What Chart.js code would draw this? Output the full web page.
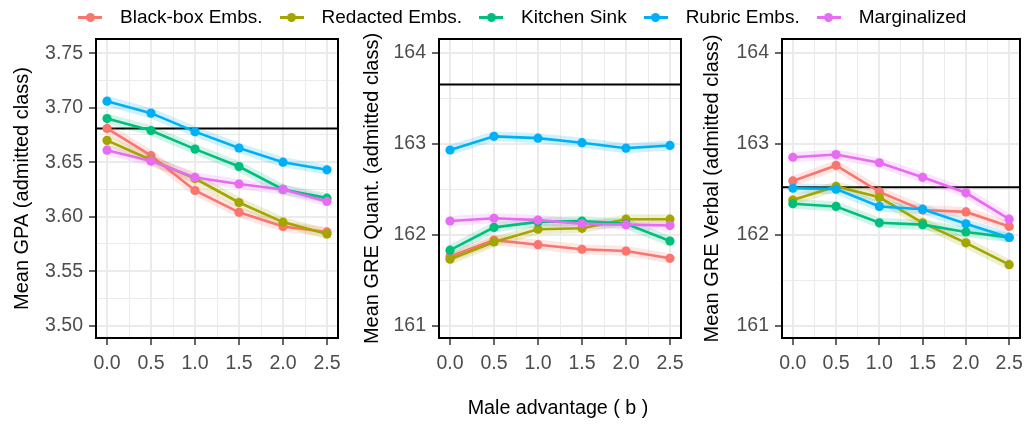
<!DOCTYPE html>
<html>
<head>
<meta charset="utf-8">
<script src="https://cdn.jsdelivr.net/npm/chart.js@4.4.1/dist/chart.umd.min.js"></script>
<style>
  body { margin: 0; background: #fff; font-family: "Liberation Sans", Arial, sans-serif; }
  #wrap { position: relative; width: 1030px; height: 425px; overflow: hidden; }
  #wrap canvas { position: absolute; left: 0; top: 0; }
  #legend { position: absolute; left: 78px; top: 5px; height: 24px; display: flex; align-items: center; font-size: 19px; color: #000; }
  .key { position: relative; width: 24px; height: 24px; margin-right: 18px; flex: none; }
  .key i { position: absolute; left: 0; top: 11px; width: 24px; height: 2.5px; }
  .key b { position: absolute; left: 7.5px; top: 7.5px; width: 9px; height: 9px; border-radius: 50%; }
  .lab { margin-right: 17px; white-space: nowrap; }
  #xtitle { position: absolute; left: 408px; width: 300px; top: 396px; text-align: center; font-size: 19.7px; line-height: 23px; color: #000; }
</style>
</head>
<body>
<div id="wrap">
  <canvas id="gpa" width="1030" height="425"></canvas>
  <canvas id="quant" width="1030" height="425"></canvas>
  <canvas id="verbal" width="1030" height="425"></canvas>
  <div id="legend"></div>
  <div id="xtitle">Male advantage ( b )</div>
</div>
<script>
// categories / series
const xValues = [0, 0.5, 1, 1.5, 2, 2.5];
const seriesNames = ['Black-box Embs.', 'Redacted Embs.', 'Kitchen Sink', 'Rubric Embs.', 'Marginalized'];
const seriesColors = ['#F8766D', '#A3A500', '#00BF7D', '#00B0F6', '#E76BF3'];

// Mean GPA
const gpaBlackbox = [3.681, 3.656, 3.624, 3.604, 3.591, 3.586];
const gpaRedacted = [3.670, 3.652, 3.635, 3.613, 3.595, 3.584];
const gpaKitchen  = [3.690, 3.679, 3.662, 3.646, 3.625, 3.617];
const gpaRubric   = [3.706, 3.695, 3.678, 3.663, 3.650, 3.643];
const gpaMarginal = [3.661, 3.651, 3.636, 3.630, 3.625, 3.614];
const gpaBaseline = 3.681;

// Mean GRE Quant.
const quantBlackbox = [161.76, 161.94, 161.89, 161.84, 161.82, 161.74];
const quantRedacted = [161.73, 161.92, 162.06, 162.07, 162.17, 162.17];
const quantKitchen  = [161.83, 162.08, 162.14, 162.15, 162.12, 161.93];
const quantRubric   = [162.93, 163.08, 163.06, 163.01, 162.95, 162.98];
const quantMarginal = [162.15, 162.18, 162.16, 162.12, 162.11, 162.10];
const quantBaseline = 163.65;

// Mean GRE Verbal
const verbalBlackbox = [162.59, 162.76, 162.47, 162.27, 162.25, 162.09];
const verbalRedacted = [162.38, 162.53, 162.41, 162.13, 161.91, 161.67];
const verbalKitchen  = [162.34, 162.31, 162.13, 162.11, 162.03, 161.97];
const verbalRubric   = [162.51, 162.50, 162.31, 162.28, 162.12, 161.97];
const verbalMarginal = [162.85, 162.88, 162.79, 162.63, 162.46, 162.17];
const verbalBaseline = 162.52;

// tick labels
const xTicks = [0, 0.5, 1, 1.5, 2, 2.5];
const gpaTicks = [3.50, 3.55, 3.60, 3.65, 3.70, 3.75];
const greTicks = [161, 162, 163, 164];

const FONT = '"Liberation Sans", Arial, sans-serif';
const TOP = 39, BOTTOM = 338;

// legend
const legend = document.getElementById('legend');
seriesNames.forEach((name, i) => {
  legend.insertAdjacentHTML('beforeend',
    '<span class="key"><i style="background:' + seriesColors[i] + '"></i><b style="background:' + seriesColors[i] + '"></b></span>' +
    '<span class="lab">' + name + '</span>');
});

function hexA(hex, a) {
  const n = parseInt(hex.slice(1), 16);
  return 'rgba(' + (n >> 16) + ',' + ((n >> 8) & 255) + ',' + (n & 255) + ',' + a + ')';
}

// major ticks plus minor ticks half way between
function withMinor(major, min, max) {
  const step = major[1] - major[0];
  const out = [];
  major.forEach(v => {
    out.push({ value: v, minor: false });
    out.push({ value: v + step / 2, minor: true });
  });
  out.unshift({ value: major[0] - step / 2, minor: true });
  return out.filter(t => t.value >= min && t.value <= max);
}

// panel frame + reference line
const framePlugin = {
  id: 'frame',
  beforeDatasetsDraw(chart, args, opts) {
    const { ctx, chartArea: a } = chart;
    const yy = chart.scales.y.getPixelForValue(opts.value);
    ctx.save();
    ctx.strokeStyle = '#000';
    ctx.lineWidth = 2;
    ctx.beginPath();
    ctx.moveTo(a.left, yy);
    ctx.lineTo(a.right, yy);
    ctx.stroke();
    ctx.restore();
  },
  afterDatasetsDraw(chart) {
    const { ctx, chartArea: a } = chart;
    ctx.save();
    ctx.strokeStyle = '#000';
    ctx.lineWidth = 2;
    ctx.strokeRect(a.left, a.top, a.right - a.left, a.bottom - a.top);
    ctx.restore();
  }
};

function makePanel(id, panel, series, baseline, yMin, yMax, majors, digits, yTitle) {
  const datasets = [];
  series.forEach((vals, i) => {
    const pts = xValues.map((x, j) => ({ x: x, y: vals[j] }));
    // faint ribbon
    datasets.push({
      data: pts, borderColor: hexA(seriesColors[i], 0.18), borderWidth: 10,
      pointRadius: 0, tension: 0, order: 100 - i
    });
    datasets.push({
      label: seriesNames[i], data: pts, borderColor: seriesColors[i], borderWidth: 2.6,
      pointRadius: 4.6, pointBackgroundColor: seriesColors[i], pointBorderWidth: 0,
      tension: 0, order: 10 - i
    });
  });

  const padLeft = panel.titleX - 12 - 4;
  const gridColor = '#EBEBEB';

  new Chart(document.getElementById(id), {
    type: 'line',
    data: { datasets },
    plugins: [framePlugin],
    options: {
      responsive: false,
      animation: false,
      events: [],
      layout: { padding: { left: padLeft, right: 1030 - panel.right, top: TOP, bottom: 0 } },
      plugins: { legend: { display: false }, tooltip: { enabled: false }, frame: { value: baseline } },
      scales: {
        x: {
          type: 'linear', min: -0.125, max: 2.625,
          afterBuildTicks: a => { a.ticks = withMinor(xTicks, -0.125, 2.625); },
          afterFit: s => { s.height = 425 - BOTTOM; },
          border: { display: false },
          grid: {
            color: gridColor,
            lineWidth: c => (c.tick && c.tick.minor) ? 1 : 2,
            tickColor: c => (c.tick && c.tick.minor) ? 'rgba(0,0,0,0)' : '#333333',
            tickWidth: 1.5, tickLength: 7, drawTicks: true
          },
          ticks: {
            autoSkip: false, maxRotation: 0, padding: 7, color: '#4D4D4D',
            font: { size: 19.5, family: FONT },
            callback: (v, i, t) => t[i].minor ? '' : Number(v).toFixed(1)
          }
        },
        y: {
          type: 'linear', min: yMin, max: yMax,
          afterBuildTicks: a => { a.ticks = withMinor(majors, yMin, yMax); },
          afterFit: s => { s.width = panel.left - padLeft; },
          border: { display: false },
          grid: {
            color: gridColor,
            lineWidth: c => (c.tick && c.tick.minor) ? 1 : 2,
            tickColor: c => (c.tick && c.tick.minor) ? 'rgba(0,0,0,0)' : '#333333',
            tickWidth: 1.5, tickLength: 7, drawTicks: true
          },
          ticks: {
            autoSkip: false, padding: 6, color: '#4D4D4D',
            font: { size: 19.5, family: FONT },
            callback: (v, i, t) => t[i].minor ? '' : Number(v).toFixed(digits)
          },
          title: {
            display: true, text: yTitle, color: '#000',
            font: { size: 20, family: FONT, lineHeight: 1.2 },
            padding: { top: 4, bottom: 0 }
          }
        }
      }
    }
  });
}

makePanel('gpa', { left: 96, right: 338, titleX: 22 },
  [gpaBlackbox, gpaRedacted, gpaKitchen, gpaRubric, gpaMarginal],
  gpaBaseline, 3.4887, 3.763, gpaTicks, 2, 'Mean GPA (admitted class)');

makePanel('quant', { left: 439, right: 681, titleX: 372 },
  [quantBlackbox, quantRedacted, quantKitchen, quantRubric, quantMarginal],
  quantBaseline, 160.865, 164.149, greTicks, 0, 'Mean GRE Quant. (admitted class)');

makePanel('verbal', { left: 782, right: 1024, titleX: 712 },
  [verbalBlackbox, verbalRedacted, verbalKitchen, verbalRubric, verbalMarginal],
  verbalBaseline, 160.865, 164.149, greTicks, 0, 'Mean GRE Verbal (admitted class)');
</script>
</body>
</html>
